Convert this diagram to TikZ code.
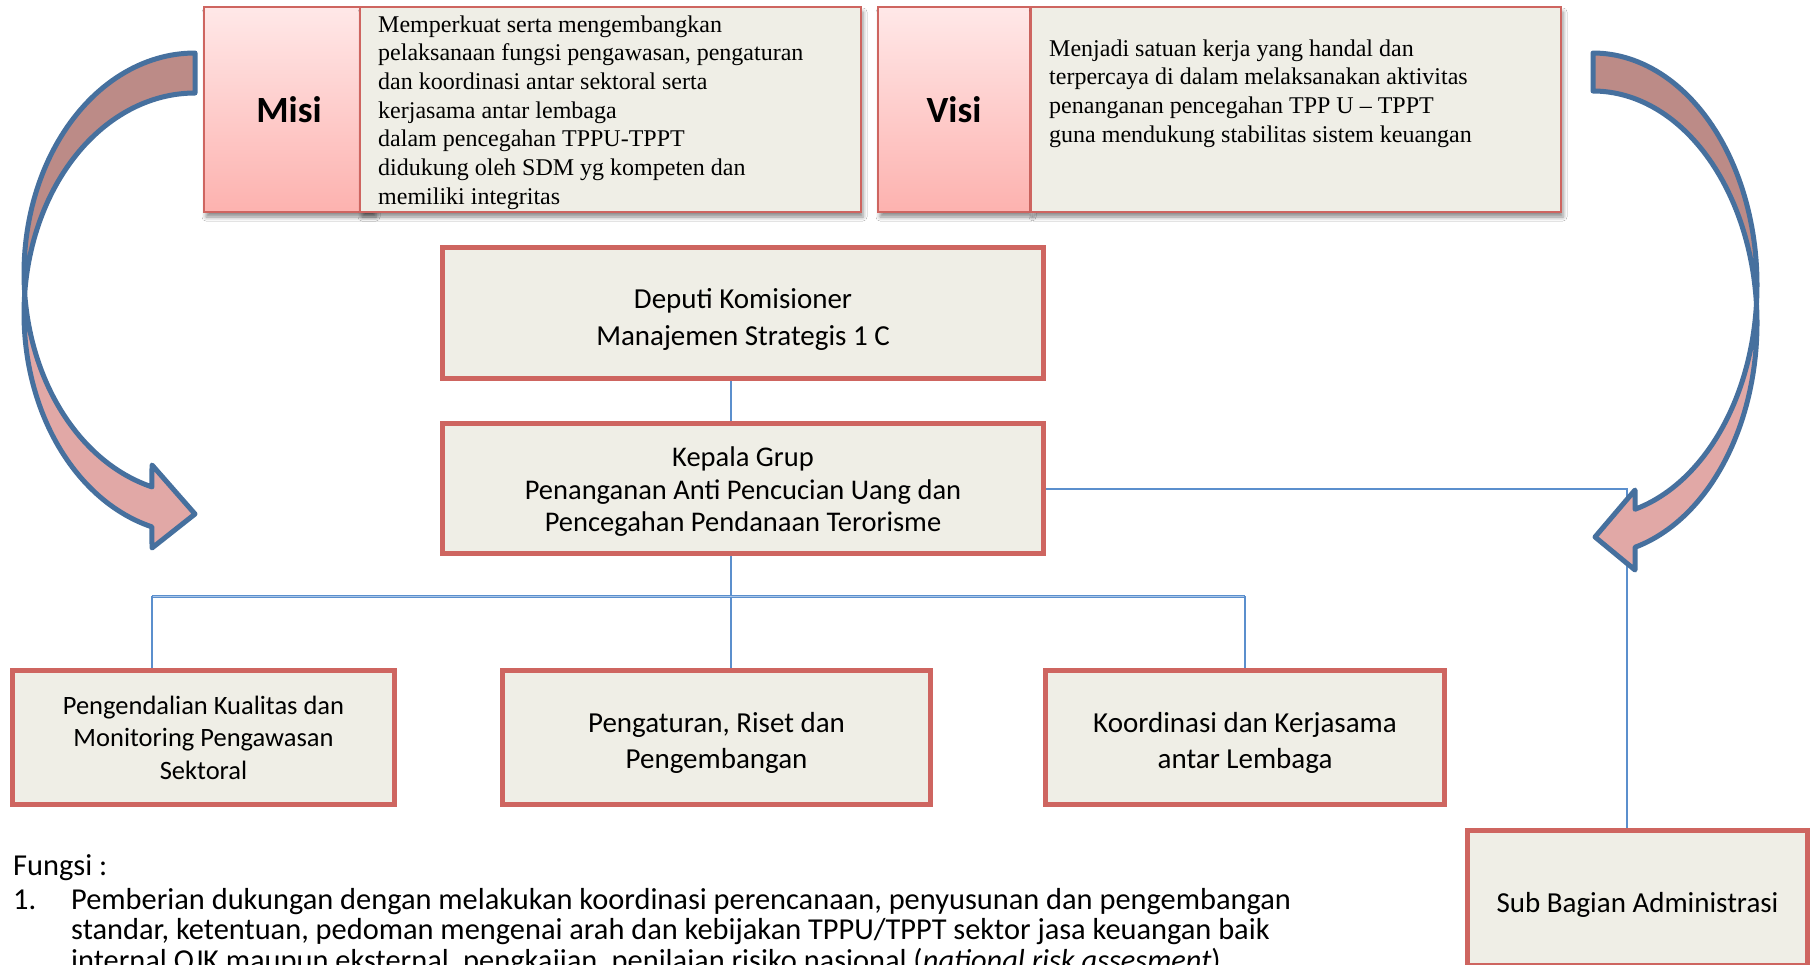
\documentclass[tikz,border=0pt]{standalone}
\usepackage{fontspec}
\setmainfont{Carlito}
\newfontfamily\tnr{Liberation Serif}
\usetikzlibrary{shadows.blur,calc}
\definecolor{boxfill}{RGB}{239,238,230}
\definecolor{boxred}{RGB}{206,101,96}
\definecolor{pinktop}{RGB}{255,232,232}
\definecolor{pinkbot}{RGB}{253,178,175}
\definecolor{conn}{RGB}{91,143,205}
\definecolor{connlight}{RGB}{170,198,232}
\definecolor{arrowline}{RGB}{70,112,158}
\definecolor{arrowdark}{RGB}{188,139,135}
\definecolor{arrowlight}{RGB}{225,168,166}
\begin{document}
\begin{tikzpicture}[x=1pt,y=-1pt,
  orgbox/.style={draw=boxred, fill=boxfill, line width=5pt, rectangle, inner sep=0pt, anchor=north west},
  boxtext/.style={align=center, inner sep=0pt, text=black},
  topbox/.style={draw=boxred, line width=2pt, rectangle, inner sep=0pt, anchor=north west,
    blur shadow={shadow xshift=2pt, shadow yshift=-5pt, shadow blur radius=4pt, shadow opacity=45}},
  pinkbox/.style={topbox, top color=pinktop, bottom color=pinkbot},
  textbox/.style={topbox, fill=boxfill},
  label/.style={font=\bfseries\fontsize{37}{40}\selectfont, inner sep=0pt},
  serifline/.style={font=\tnr\fontsize{24}{28}\selectfont, inner sep=0pt, anchor=base west},
  fline/.style={font=\fontsize{30.4}{32}\selectfont, inner sep=0pt, anchor=base west},
  connector/.style={draw=conn, line width=2pt},
  busline/.style={draw=conn, line width=1.1pt, double=connlight, double distance=0.8pt},
  darkpart/.style={fill=arrowdark, draw=arrowline, line width=5pt, line join=round},
  lightpart/.style={fill=arrowlight, draw=arrowline, line width=5pt, line join=round},
]
\clip (0,0) rectangle (1814,964);
\fill[white] (0,0) rectangle (1814,964);

% ---------- top boxes ----------
\node[pinkbox, minimum width=170, minimum height=205] (misiL) at (203,6) {};
\node[textbox, minimum width=501, minimum height=205] (misiR) at (359,6) {};
\node[label] (misilabel) at (289,110) {Misi};
\foreach \t [count=\i] in {Memperkuat serta mengembangkan,
  {pelaksanaan fungsi pengawasan, pengaturan},
  dan koordinasi antar sektoral serta,
  kerjasama antar lembaga,
  dalam pencegahan TPPU-TPPT,
  didukung oleh SDM yg kompeten dan,
  memiliki integritas}
  \node[serifline] (misi\i) at (378,{32+28.7*(\i-1)}) {\t};

\node[pinkbox, minimum width=152, minimum height=205] (visiL) at (877,6) {};
\node[textbox, minimum width=530, minimum height=205] (visiR) at (1030,6) {};
\node[label] (visilabel) at (954,110) {Visi};
\foreach \t [count=\i] in {Menjadi satuan kerja yang handal dan,
  terpercaya di dalam melaksanakan aktivitas,
  penanganan pencegahan TPP U – TPPT,
  guna mendukung stabilitas sistem keuangan}
  \node[serifline] (visi\i) at (1049,{56+28.7*(\i-1)}) {\t};

% ---------- org boxes ----------
\coordinate (spine) at (731,0);
\coordinate (busL) at (152,596);
\coordinate (busR) at (1245,596);
\coordinate (subx) at (1627,0);

\node[orgbox, minimum width=601, minimum height=131] (deputi) at (440,245) {};
\node[orgbox, minimum width=601, minimum height=130] (kepala) at (440,421) {};
\node[orgbox, minimum width=382, minimum height=134] (pengendalian) at (10,668) {};
\node[orgbox, minimum width=428, minimum height=134] (pengaturan) at (500,668) {};
\node[orgbox, minimum width=399, minimum height=134] (koordinasi) at (1043,668) {};
\node[orgbox, minimum width=340, minimum height=135] (subbag) at (1465,828) {};

\node[boxtext, font=\fontsize{29}{37}\selectfont] (deputitext) at ([yshift=-6pt]deputi.center)
  {Deputi Komisioner\\Manajemen Strategis 1 C};
\node[boxtext, font=\fontsize{28.5}{32.5}\selectfont] (kepalatext) at ([yshift=-3.5pt]kepala.center)
  {Kepala Grup\\Penanganan Anti Pencucian Uang dan\\Pencegahan Pendanaan Terorisme};
\node[boxtext, font=\fontsize{26.5}{32.5}\selectfont] (pengendaliantext) at (pengendalian.center)
  {Pengendalian Kualitas dan\\Monitoring Pengawasan\\Sektoral};
\node[boxtext, font=\fontsize{29}{36}\selectfont] (pengaturantext) at ([yshift=-5pt]pengaturan.center)
  {Pengaturan, Riset dan\\Pengembangan};
\node[boxtext, font=\fontsize{29}{36}\selectfont] (koordinasitext) at ([yshift=-5pt]koordinasi.center)
  {Koordinasi dan Kerjasama\\antar Lembaga};
\node[boxtext, font=\fontsize{29}{36}\selectfont] (subbagtext) at ([yshift=-7pt]subbag.center)
  {Sub Bagian Administrasi};

% ---------- connectors ----------
\draw[connector] (deputi.south -| spine) -- (kepala.north -| spine);
\draw[connector] (kepala.south -| spine) -- (pengaturan.north -| spine);
\draw[busline] (busL) -- (busR);
\draw[connector] (busL) -- (pengendalian.north -| busL);
\draw[connector] (busR) -- (koordinasi.north);
\draw[connector] (kepala.east) -- (kepala.east -| subx) -- (subbag.north -| subx);

% ---------- Fungsi text ----------
\node[fline] (fungsi) at (13,875) {Fungsi :};
\node[fline] (num1) at (13,909) {1.};
\node[fline] (f1) at (71,909) {Pemberian dukungan dengan melakukan koordinasi perencanaan, penyusunan dan pengembangan};
\node[fline] (f2) at (71,939) {standar, ketentuan, pedoman mengenai arah dan kebijakan TPPU/TPPT sektor jasa keuangan baik};
\node[fline] (f3) at (71,970) {internal OJK maupun eksternal, pengkajian, penilaian risiko nasional (\textit{national risk assesment}).};

% ---------- curved arrows ----------
% left
\path[darkpart]
  plot[domain=270:174.8, samples=60, variable=\a] ({195+171*cos(\a)},{273.5+220.5*sin(\a)})
  -- plot[domain=185.2:270, samples=60, variable=\a] ({195+171*cos(\a)},{313.5+220.5*sin(\a)})
  -- cycle;
\path[lightpart]
  plot[domain=185.2:104.57, samples=60, variable=\a] ({195+171*cos(\a)},{313.5+220.5*sin(\a)})
  -- (152,548) -- (195,514) -- (152,465)
  -- plot[domain=104.57:174.8, samples=60, variable=\a] ({195+171*cos(\a)},{273.5+220.5*sin(\a)})
  -- cycle;
% right
\path[darkpart]
  plot[domain=-90:4.7, samples=60, variable=\a] ({1593+164*cos(\a)},{285+232*sin(\a)})
  -- plot[domain=-4.7:-90, samples=60, variable=\a] ({1593+164*cos(\a)},{323+232*sin(\a)})
  -- cycle;
\path[lightpart]
  plot[domain=-4.7:75.16, samples=60, variable=\a] ({1593+164*cos(\a)},{323+232*sin(\a)})
  -- (1635,570) -- (1595,537) -- (1635,490)
  -- plot[domain=75.16:4.7, samples=60, variable=\a] ({1593+164*cos(\a)},{285+232*sin(\a)})
  -- cycle;
\end{tikzpicture}
\end{document}
